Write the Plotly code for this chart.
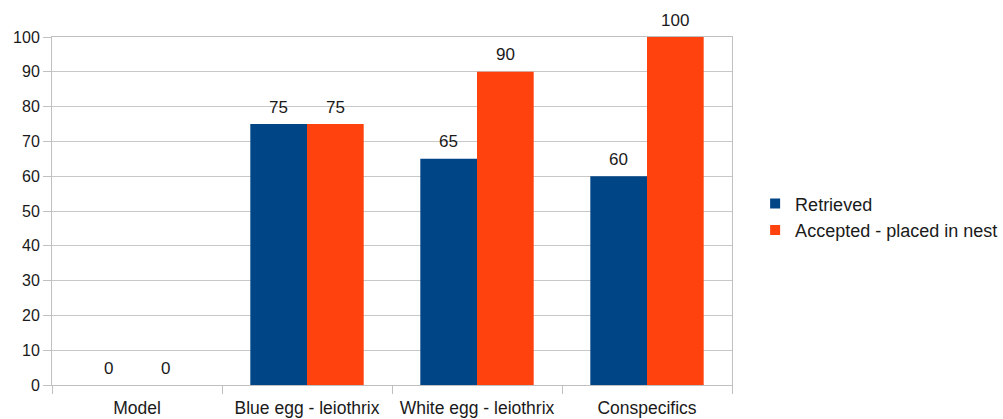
import plotly.graph_objects as go

categories = ["Model", "Blue egg - leiothrix", "White egg - leiothrix", "Conspecifics"]
retrieved = [0, 75, 65, 60]
accepted = [0, 75, 90, 100]
series_names = ["Retrieved", "Accepted - placed in nest"]
colors = ["#004586", "#ff420e"]
y_ticks = list(range(0, 101, 10))

FONT = "Liberation Sans, Arial, sans-serif"
TXT = "#1a1a1a"
BARGAP = 0.333
PLOT_W = 1003 - 52 - 271
bar_px = PLOT_W / len(categories) * (1 - BARGAP) / 2

fig = go.Figure()
for i, (name, vals, col) in enumerate(zip(series_names, [retrieved, accepted], colors)):
    fig.add_trace(go.Bar(
        x=categories, y=vals, name=name, marker_color=col, marker_line_width=0,
        showlegend=False,
    ))
    # legend entry (small square)
    fig.add_trace(go.Scatter(
        x=[None], y=[None], mode="markers", name=name,
        marker=dict(symbol="square", size=10, color=col), legendgroup=f"g{i}",
    ))
    shift = (i - 0.5) * bar_px
    for c, v in zip(categories, vals):
        fig.add_annotation(
            x=c, y=v, text=str(v), showarrow=False, xshift=shift, yshift=17,
            yanchor="middle", font=dict(family=FONT, size=17, color=TXT),
        )

fig.update_layout(
    width=1003, height=419,
    margin=dict(l=52, r=271, t=37, b=34, autoexpand=False),
    paper_bgcolor="white", plot_bgcolor="white",
    barmode="group", bargap=BARGAP, bargroupgap=0,
    font=dict(family=FONT, size=17, color=TXT),
    showlegend=True,
    legend=dict(x=1.034, y=0.483, xanchor="left", yanchor="middle",
                font=dict(family=FONT, size=18, color=TXT),
                tracegroupgap=0, bgcolor="rgba(0,0,0,0)"),
)
fig.update_xaxes(
    showline=True, linecolor="#c0c0c0", linewidth=1, mirror=True,
    ticks="outside", tickson="boundaries", ticklen=8, tickcolor="#c0c0c0",
    ticklabelstandoff=7, automargin=False,
    showgrid=False, tickfont=dict(family=FONT, size=17.5, color=TXT),
)
fig.update_yaxes(
    range=[0, 100], tickvals=y_ticks, showline=True, linecolor="#c0c0c0", linewidth=1,
    mirror=True, ticks="outside", ticklen=8, tickcolor="#c0c0c0", automargin=False,
    showgrid=True, gridcolor="#c8c8c8", gridwidth=1, zeroline=False,
    tickfont=dict(family=FONT, size=16, color=TXT),
)

fig.write_html("out.html")
